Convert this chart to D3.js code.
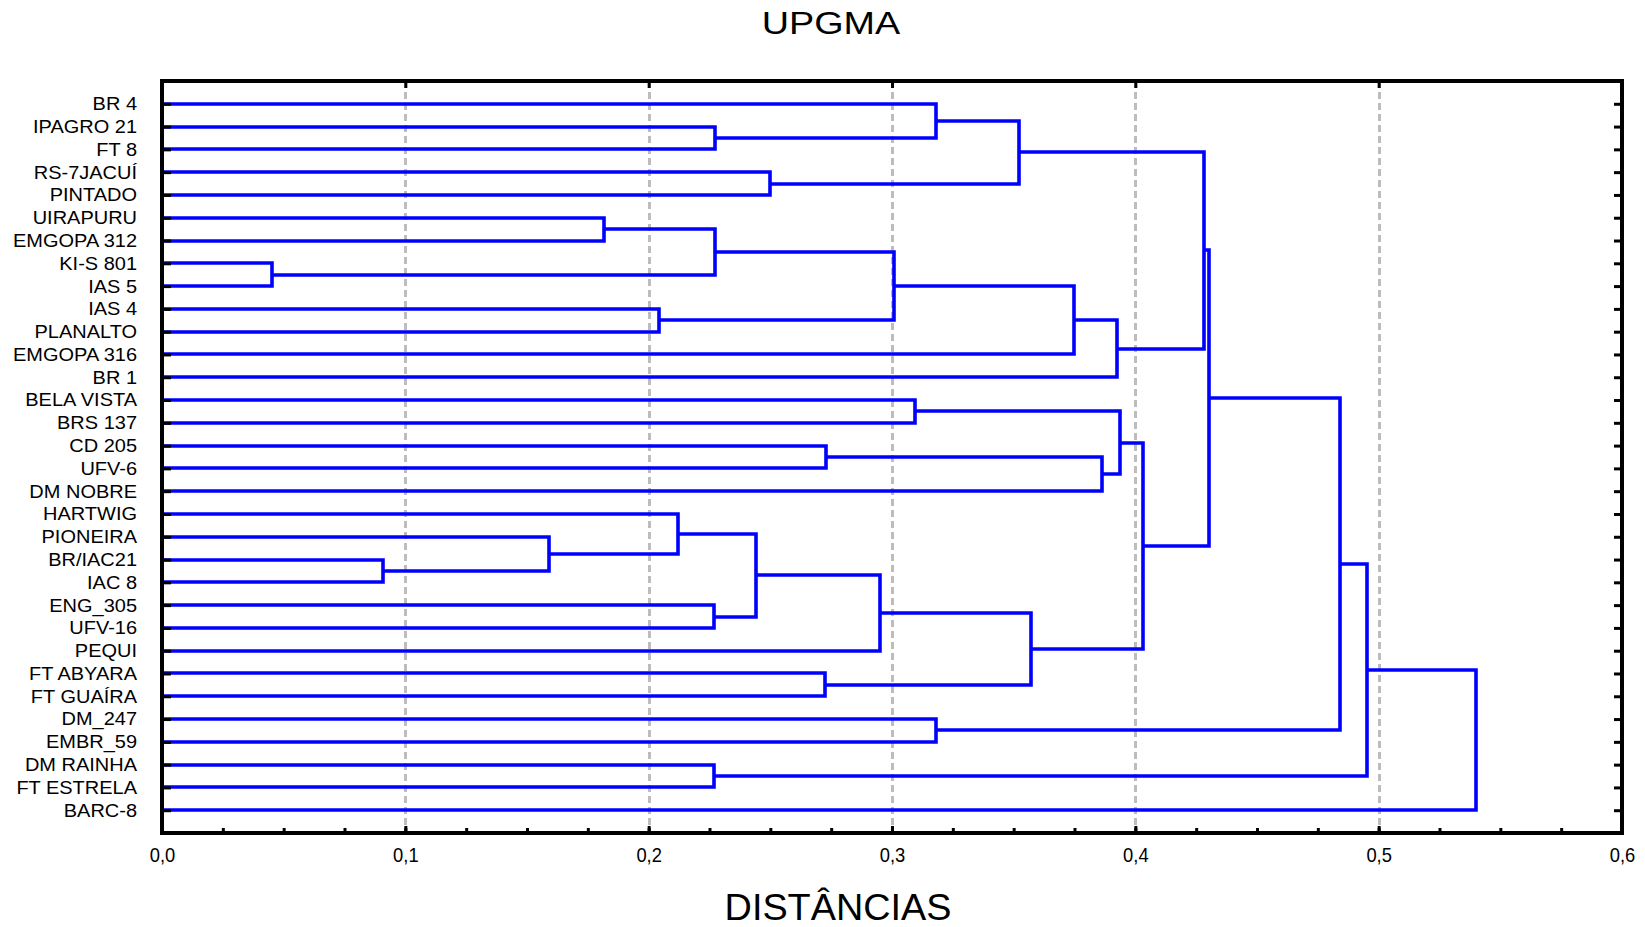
<!DOCTYPE html>
<html>
<head>
<meta charset="utf-8">
<script src="https://cdn.jsdelivr.net/npm/d3@7"></script>
<style>
  body{margin:0;background:#fff;}
  text{font-family:"Liberation Sans",Arial,sans-serif;fill:#000;}
</style>
</head>
<body>
<div class="chart"></div>
<script>
// leaf order, top to bottom
let leaves=['BR 4','IPAGRO 21','FT 8','RS-7JACUÍ','PINTADO','UIRAPURU','EMGOPA 312','KI-S 801','IAS 5','IAS 4',
  'PLANALTO','EMGOPA 316','BR 1','BELA VISTA','BRS 137','CD 205','UFV-6','DM NOBRE','HARTWIG','PIONEIRA',
  'BR/IAC21','IAC 8','ENG_305','UFV-16','PEQUI','FT ABYARA','FT GUAÍRA','DM_247','EMBR_59','DM RAINHA',
  'FT ESTRELA','BARC-8']

// merges: ids 0..31 are leaves, merge k gets id 32+k (upper child first)
let mergeA=[7,20,19,5,9,18,1,35,22,29,37,3,15,25,42,39,13,0,27,49,46,47,44,53,48,56,51,58,59,60,61]
let mergeB=[8,21,33,6,10,34,2,32,23,30,40,4,16,26,24,36,14,38,28,43,45,11,17,12,54,52,55,57,50,41,31]
let mergeDist=[0.045,0.091,0.159,0.1815,0.2044,0.212,0.2273,0.2273,0.227,0.227,0.2441,0.250,0.2727,0.2726,0.2952,
  0.301,0.3095,0.318,0.318,0.352,0.3572,0.3747,0.3862,0.3925,0.3938,0.4033,0.4284,0.4301,0.4842,0.4952,0.540]

let majorTicks=[0,0.1,0.2,0.3,0.4,0.5,0.6]
let minorTicks=d3.range(0,0.6001,0.025)
let gridTicks=[0.1,0.2,0.3,0.4,0.5]

let w=1645, h=927
let pLeft=162, pRight=1622, pTop=81, pBottom=833

let svg=d3.select('.chart').append('svg').attr('width',w).attr('height',h)

let xScale=d3.scaleLinear().domain([0,0.6]).range([pLeft,pRight])
let yScale=d3.scalePoint().domain(leaves).range([pTop,pBottom]).padding(1)

// snap to whole pixels so the 4px lines stay solid
let px=v=>Math.round(v)

// node positions
let nodeX=leaves.map(()=>px(xScale(0)))
let nodeY=leaves.map(d=>yScale(d))
let links=[]
mergeDist.forEach((d,i)=>{
  let a=mergeA[i], b=mergeB[i]
  links.push({a:a,b:b,d:d})
  nodeX.push(px(xScale(d)))
  nodeY.push((nodeY[a]+nodeY[b])/2)
})

// dashed grid
svg.selectAll('.grid').data(gridTicks).enter().append('line')
  .attr('x1',d=>px(xScale(d))+0.5).attr('x2',d=>px(xScale(d))+0.5)
  .attr('y1',pTop).attr('y2',pBottom)
  .attr('stroke','#bdbdbd').attr('stroke-width',3).attr('stroke-dasharray','7,4')

// dendrogram links
svg.selectAll('.link').data(links).enter().append('path')
  .attr('d',l=>'M'+nodeX[l.a]+','+px(nodeY[l.a])+'H'+px(xScale(l.d))+'V'+px(nodeY[l.b])+'H'+nodeX[l.b])
  .attr('fill','none').attr('stroke','#0000ff').attr('stroke-width',3.6)
  .attr('stroke-linejoin','miter')

// frame
svg.append('rect').attr('x',pLeft).attr('y',pTop).attr('width',pRight-pLeft).attr('height',pBottom-pTop)
  .attr('fill','none').attr('stroke','#000').attr('stroke-width',4)

let fmt=d=>d3.format('.1f')(d).replace('.',',')

let styleAxis=g=>{
  g.select('.domain').remove()
  g.selectAll('.tick line').attr('stroke','#000').attr('stroke-width',3)
}

// bottom axis: minor + major ticks
svg.append('g').attr('transform','translate(0,'+pBottom+')')
  .call(d3.axisBottom(xScale).tickValues(minorTicks).tickSize(-5).tickFormat(''))
  .call(styleAxis)
svg.append('g').attr('transform','translate(0,'+pBottom+')')
  .call(d3.axisBottom(xScale).tickValues(majorTicks).tickSizeInner(-7).tickSizeOuter(0).tickPadding(15).tickFormat(fmt))
  .call(styleAxis)
  .call(g=>g.selectAll('text').attr('font-size','20px').attr('font-family','"Liberation Sans",Arial,sans-serif')
    .attr('x',0).attr('transform','scale(0.92,1)'))

// top axis
svg.append('g').attr('transform','translate(0,'+pTop+')')
  .call(d3.axisTop(xScale).tickValues(majorTicks).tickSize(-7).tickFormat(''))
  .call(styleAxis)

// left axis with leaf names (slightly wide lettering as in the source)
let labelPad=25, labelStretch=1.08
svg.append('g').attr('transform','translate('+pLeft+',0)')
  .call(d3.axisLeft(yScale).tickSizeInner(-9).tickSizeOuter(0).tickPadding(labelPad))
  .call(styleAxis)
  .call(g=>g.selectAll('text').attr('font-size','18.5px').attr('font-family','"Liberation Sans",Arial,sans-serif')
    .attr('x',-labelPad/labelStretch).attr('transform','scale('+labelStretch+',1)'))

// right axis ticks
svg.append('g').attr('transform','translate('+pRight+',0)')
  .call(d3.axisLeft(yScale).tickSize(8).tickFormat(''))
  .call(styleAxis)

// titles
svg.append('text').text('UPGMA')
  .attr('transform','translate(831,34) scale(1.18,1)')
  .attr('text-anchor','middle').style('font-size','32px')
svg.append('text').text('DISTÂNCIAS')
  .attr('transform','translate(838,920) scale(1.05,1)')
  .attr('text-anchor','middle').style('font-size','36px')
</script>
</body>
</html>
